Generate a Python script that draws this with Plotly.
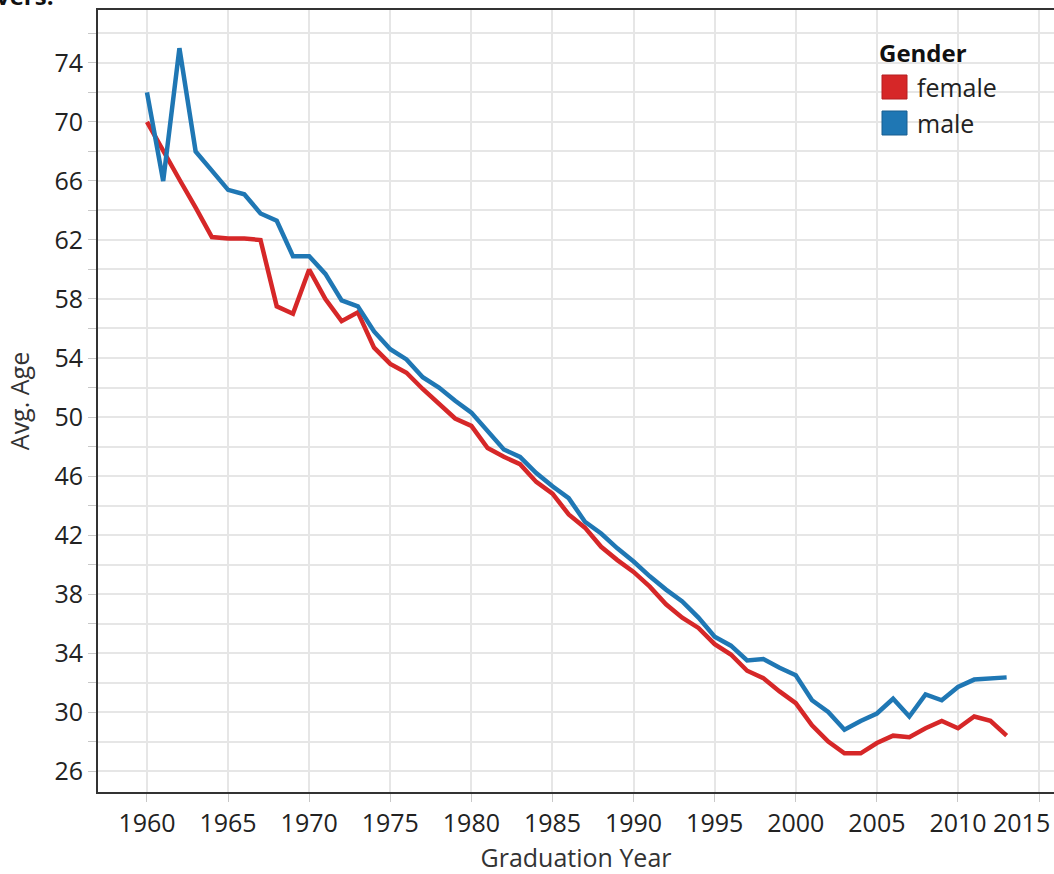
import plotly.graph_objects as go

years = list(range(1960, 2014))

female_age = [70.0, 68.0, 66.1, 64.2, 62.2, 62.1, 62.1, 62.0, 57.5, 57.0,
              60.0, 58.0, 56.5, 57.1, 54.7, 53.6, 53.0, 51.9, 50.9, 49.9,
              49.4, 47.9, 47.3, 46.8, 45.6, 44.8, 43.4, 42.5, 41.2, 40.3,
              39.5, 38.5, 37.3, 36.4, 35.7, 34.6, 33.9, 32.8, 32.3, 31.4,
              30.6, 29.1, 28.0, 27.2, 27.2, 27.9, 28.4, 28.3, 28.9, 29.4,
              28.9, 29.7, 29.4, 28.4]

male_age = [72.0, 66.0, 75.0, 68.0, 66.7, 65.4, 65.1, 63.8, 63.3, 60.9,
            60.9, 59.7, 57.9, 57.5, 55.8, 54.6, 53.9, 52.7, 52.0, 51.1,
            50.3, 49.1, 47.8, 47.3, 46.2, 45.3, 44.5, 42.9, 42.1, 41.1,
            40.2, 39.2, 38.3, 37.5, 36.4, 35.1, 34.5, 33.5, 33.6, 33.0,
            32.5, 30.8, 30.0, 28.8, 29.4, 29.9, 30.9, 29.7, 31.2, 30.8,
            31.7, 32.2, 32.3, 32.35]

x_tick_vals = [1960, 1965, 1970, 1975, 1980, 1985, 1990, 1995, 2000, 2005, 2010, 2015]
y_tick_vals = [26, 30, 34, 38, 42, 46, 50, 54, 58, 62, 66, 70, 74]

series_names = ["female", "male"]
series_colors = ["#d62728", "#1f77b4"]
series_borders = ["#b51f20", "#185f90"]

W, H = 1054, 874
ML, MT, MR, MB = 98, 10, 0, 82
PW, PH = W - ML - MR, H - MT - MB

def px_x(p):
    return (p - ML) / PW

def px_y(p):
    return (H - MB - p) / PH

FONT = "Open Sans, Noto Sans, sans-serif"

fig = go.Figure()
for name, vals, col in zip(series_names, [female_age, male_age], series_colors):
    fig.add_trace(go.Scatter(x=years, y=vals, mode="lines", name=name,
                             line=dict(color=col, width=4.5), showlegend=False))

# last tick label is drawn shifted left (kept inside the view, as in the reference)
x_tick_text = [str(v) for v in x_tick_vals]
last_label = x_tick_text[-1]
x_tick_text[-1] = ""

fig.update_layout(
    width=W, height=H,
    margin=dict(l=ML, r=MR, t=MT, b=MB, pad=0, autoexpand=False),
    plot_bgcolor="white", paper_bgcolor="white",
    font=dict(family=FONT, size=25, color="#222"),
    xaxis=dict(
        range=[1956.98, 2015.92],
        tickvals=x_tick_vals, ticktext=x_tick_text,
        tickangle=0, automargin=False,
        showgrid=True, gridcolor="#e6e6e6", gridwidth=2,
        showline=True, linecolor="#333", linewidth=2, mirror=True,
        ticks="outside", ticklen=8, tickcolor="#c8c8c8", tickwidth=1,
        tickfont=dict(size=25, color="#222"),
        zeroline=False,
        title=dict(text="Graduation Year", font=dict(size=25, color="#333"), standoff=20),
    ),
    yaxis=dict(
        range=[24.58, 77.59],
        tickvals=y_tick_vals, automargin=False,
        showgrid=True, gridcolor="#e6e6e6", gridwidth=2,
        showline=True, linecolor="#333", linewidth=2,
        ticks="outside", ticklen=8, tickcolor="#c8c8c8", tickwidth=1,
        tickfont=dict(size=25, color="#222"),
        minor=dict(tickvals=[v + 2 for v in y_tick_vals] + [24],
                   showgrid=True, gridcolor="#e6e6e6", gridwidth=2,
                   ticks="outside", ticklen=8, tickcolor="#c8c8c8"),
        zeroline=False,
        title=dict(text="Avg. Age", font=dict(size=25, color="#333"), standoff=18),
    ),
)

fig.add_annotation(text=last_label, xref="paper", yref="paper",
                   x=px_x(1021), y=px_y(822), xanchor="center", yanchor="middle",
                   showarrow=False, font=dict(size=25, color="#222"))

# Custom legend (squares + labels)
legend_rows = [87, 123]
for name, col, bcol, cy in zip(series_names, series_colors, series_borders, legend_rows):
    fig.add_shape(type="rect", xref="paper", yref="paper",
                  x0=px_x(882), x1=px_x(907), y0=px_y(cy + 12), y1=px_y(cy - 12),
                  fillcolor=col, line=dict(color=bcol, width=1), layer="above")
    fig.add_annotation(text=name, xref="paper", yref="paper",
                       x=px_x(915), y=px_y(cy), xanchor="left", yanchor="middle",
                       showarrow=False, font=dict(size=25, color="#222"))
fig.add_annotation(text="<b>Gender</b>", xref="paper", yref="paper",
                   x=px_x(877), y=px_y(52), xanchor="left", yanchor="middle",
                   showarrow=False, font=dict(size=24, color="#111"))

# Cropped caption remnant at the very top-left
fig.add_annotation(text="<b>vers.</b>", xref="paper", yref="paper",
                   x=px_x(56), y=px_y(14), xanchor="right", yanchor="bottom",
                   showarrow=False, font=dict(size=24, color="#111"))

fig.write_html(
    "out.html",
    config={"displayModeBar": False},
    post_script="document.body.style.margin='0';document.body.style.overflow='hidden';",
)
